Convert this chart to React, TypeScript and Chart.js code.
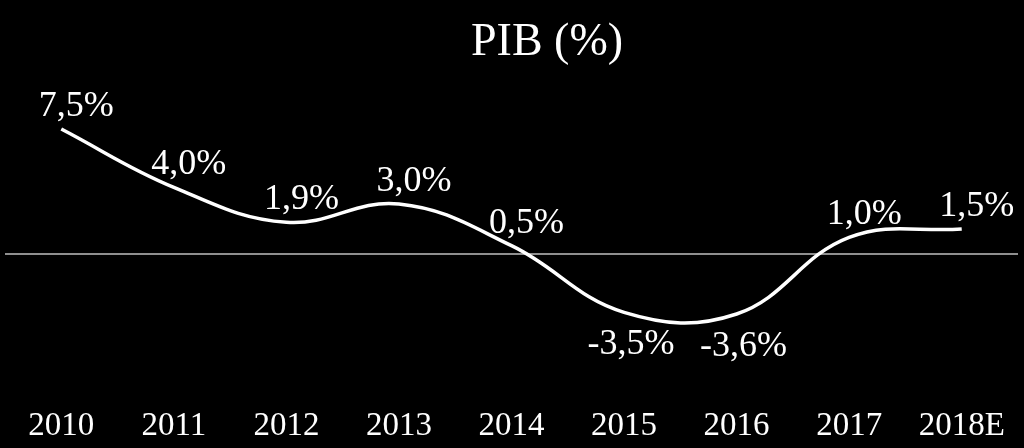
import React, { useEffect, useRef } from "react";
import { Chart, registerables } from "chart.js";

Chart.register(...registerables);

const categories = ["2010", "2011", "2012", "2013", "2014", "2015", "2016", "2017", "2018E"];
const pibValues = [7.5, 4.0, 1.9, 3.0, 0.5, -3.5, -3.6, 1.0, 1.5];
const valueLabels = ["7,5%", "4,0%", "1,9%", "3,0%", "0,5%", "-3,5%", "-3,6%", "1,0%", "1,5%"];
const chartTitle = "PIB (%)";

const FONT = "'Liberation Serif', 'DejaVu Serif', serif";

const decorPlugin = {
  id: "decor",
  beforeDraw(chart: any) {
    const { ctx, width, height } = chart;
    ctx.save();
    ctx.fillStyle = "#000000";
    ctx.fillRect(0, 0, width, height);
    ctx.restore();
  },
  beforeDatasetsDraw(chart: any) {
    const { ctx, chartArea, scales } = chart;
    const y0 = scales.y.getPixelForValue(0);
    ctx.save();
    ctx.strokeStyle = "rgba(255,255,255,0.75)";
    ctx.lineWidth = 1.5;
    ctx.beginPath();
    ctx.moveTo(chartArea.left, y0);
    ctx.lineTo(chartArea.right, y0);
    ctx.stroke();
    ctx.restore();
  },
  afterDatasetsDraw(chart: any) {
    const { ctx } = chart;
    const meta = chart.getDatasetMeta(0);
    ctx.save();
    ctx.fillStyle = "#ffffff";
    ctx.font = `36px ${FONT}`;
    ctx.textAlign = "center";
    ctx.textBaseline = "alphabetic";
    meta.data.forEach((pt: any, i: number) => {
      const v = pibValues[i];
      if (v >= 0) {
        ctx.fillText(valueLabels[i], pt.x + 15, pt.y - 13);
      } else {
        ctx.fillText(valueLabels[i], pt.x + 7, pt.y + 42);
      }
    });
    ctx.font = `46px ${FONT}`;
    ctx.fillText(chartTitle, 547, 55);
    ctx.restore();
  },
};

export default function App() {
  const canvasRef = useRef<HTMLCanvasElement | null>(null);

  useEffect(() => {
    document.body.style.margin = "0";
    document.body.style.background = "#000000";
    const canvas = canvasRef.current;
    if (!canvas) return;
    const chart = new Chart(canvas, {
      type: "line",
      data: {
        labels: categories,
        datasets: [
          {
            data: pibValues,
            borderColor: "#ffffff",
            borderWidth: 3.5,
            pointRadius: 0,
            tension: 0.4,
            fill: false,
          },
        ],
      },
      options: {
        animation: false,
        responsive: false,
        devicePixelRatio: 1,
        layout: { padding: { top: 104, left: 5, right: 6, bottom: 0 } },
        plugins: {
          legend: { display: false },
          title: { display: false },
          tooltip: { enabled: false },
        },
        scales: {
          x: {
            offset: true,
            grid: { display: false, drawTicks: false },
            border: { display: false },
            ticks: {
              color: "#ffffff",
              font: { family: FONT, size: 33 },
              padding: 3,
              maxRotation: 0,
              autoSkip: false,
            },
            afterFit(scale: any) {
              scale.height = 44;
            },
          },
          y: {
            display: false,
            min: -9,
            max: 9,
          },
        },
      },
      plugins: [decorPlugin],
    });
    return () => chart.destroy();
  }, []);

  return (
    <div style={{ width: 1024, height: 448, background: "#000" }}>
      <canvas ref={canvasRef} width={1024} height={448} />
    </div>
  );
}
